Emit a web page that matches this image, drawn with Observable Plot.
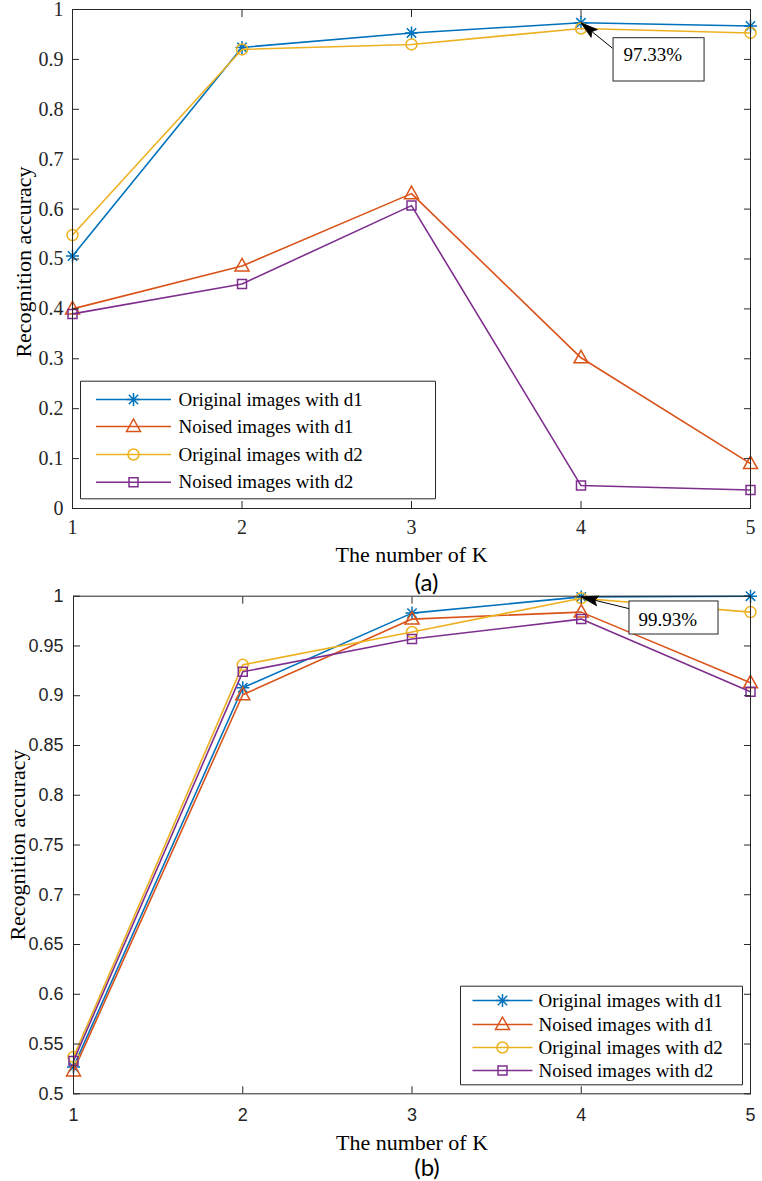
<!DOCTYPE html>
<html>
<head>
<meta charset="utf-8">
<script src="https://cdn.jsdelivr.net/npm/d3@7"></script>
<script src="https://cdn.jsdelivr.net/npm/@observablehq/plot@0.6"></script>
<style>
  html, body { margin: 0; padding: 0; background: #ffffff; overflow: hidden; }
  #wrap { width: 762px; height: 1181px; position: relative; }
  #wrap svg { display: block; }
</style>
</head>
<body>
<div id="wrap"></div>
<script>
// ---------------- data ----------------
const K = [1, 2, 3, 4, 5];
const xTicks = [1, 2, 3, 4, 5];
const xTickLabels = ["1", "2", "3", "4", "5"];

const seriesNames = ["Original images with d1", "Noised images with d1", "Original images with d2", "Noised images with d2"];
const seriesColors = ["#0072BD", "#D95319", "#EDB120", "#7E2F8E"];
const seriesMarkers = ["asterisk", "triangle", "circle", "square"];

// panel (a)
const aOrigD1 = [0.506, 0.924, 0.953, 0.9733, 0.967];
const aNoisD1 = [0.400, 0.486, 0.631, 0.302, 0.090];
const aOrigD2 = [0.548, 0.920, 0.930, 0.962, 0.953];
const aNoisD2 = [0.390, 0.450, 0.607, 0.046, 0.037];
const yTicksA = [0, 0.1, 0.2, 0.3, 0.4, 0.5, 0.6, 0.7, 0.8, 0.9, 1];
const yTickLabelsA = ["0", "0.1", "0.2", "0.3", "0.4", "0.5", "0.6", "0.7", "0.8", "0.9", "1"];
const annoTextA = [{x: 4.25, y: 0.909, t: "97.33%"}];
const annoBoxA = [{x1: 4.192, x2: 4.729, y1: 0.8557, y2: 0.9425}];
const annoArrowA = [{x1: 4.186, y1: 0.9224, x2: 4, y2: 0.9733}];

// panel (b)
const bOrigD1 = [0.527, 0.908, 0.983, 0.9993, 1.000];
const bNoisD1 = [0.523, 0.901, 0.977, 0.984, 0.913];
const bOrigD2 = [0.537, 0.931, 0.964, 0.998, 0.984];
const bNoisD2 = [0.533, 0.924, 0.957, 0.977, 0.904];
const yTicksB = [0.5, 0.55, 0.6, 0.65, 0.7, 0.75, 0.8, 0.85, 0.9, 0.95, 1];
const yTickLabelsB = ["0.5", "0.55", "0.6", "0.65", "0.7", "0.75", "0.8", "0.85", "0.9", "0.95", "1"];
const annoTextB = [{x: 4.338, y: 0.9766, t: "99.93%"}];
const annoBoxB = [{x1: 4.285, x2: 4.811, y1: 0.9615, y2: 0.9947}];
const annoArrowB = [{x1: 4.287, y1: 0.9873, x2: 4, y2: 0.9993}];

const xLabel = "The number of K";
const yLabel = "Recognition accuracy";

// ---------------- helpers ----------------
const INK = "#262626";
const SERIF = "'Liberation Serif', 'Times New Roman', serif";
const SANS = "'Liberation Sans', Arial, sans-serif";

const symAsterisk = {draw(c) {
  const r = 6.5, q = r * 0.72;
  c.moveTo(0, -r); c.lineTo(0, r);
  c.moveTo(-r, 0); c.lineTo(r, 0);
  c.moveTo(-q, -q); c.lineTo(q, q);
  c.moveTo(-q, q); c.lineTo(q, -q);
}};
const symTriangle = {draw(c) { c.moveTo(0, -7.5); c.lineTo(7, 5); c.lineTo(-7, 5); c.closePath(); }};
const symCircle = {draw(c) { c.moveTo(5.5, 0); c.arc(0, 0, 5.5, 0, 2 * Math.PI); }};
const symSquare = {draw(c) { c.rect(-4.5, -4.5, 9, 9); }};
const markerSymbols = {asterisk: symAsterisk, triangle: symTriangle, circle: symCircle, square: symSquare};
const hline = (w) => ({draw(c) { c.moveTo(-w / 2, 0); c.lineTo(w / 2, 0); }});
const boxSym = (w, h) => ({draw(c) { c.rect(-w / 2, -h / 2, w, h); }});
const arrowHead = (theta, L = 17, W = 5) => ({draw(c) {
  const ux = Math.cos(theta), uy = Math.sin(theta);
  const bx = L * ux, by = L * uy;
  c.moveTo(0, 0);
  c.lineTo(bx - W * uy, by + W * ux);
  c.lineTo(bx * 0.82, by * 0.82);
  c.lineTo(bx + W * uy, by - W * ux);
  c.closePath();
}});

function chart(cfg) {
  const {values, yDomain, yTicks, yTickLabels, height, m, tickFont, tickFontSize,
         xTickDy, yTickDx, legend, annoText, annoBox, annoArrow,
         yLabelDx, yLabelDy, xLabelDy, panel, panelDy} = cfg;
  const W = 762;
  const sx = d3.scaleLinear([1, 5], [m.left, W - m.right]);
  const sy = d3.scaleLinear(yDomain, [height - m.bottom, m.top]);
  const a = annoArrow[0];
  const theta = Math.atan2(sy(a.y1) - sy(a.y2), sx(a.x1) - sx(a.x2));

  const marks = [];
  // data
  seriesNames.forEach((name, si) => {
    const rows = K.map((k, i) => ({K: k, v: values[si][i]}));
    marks.push(Plot.line(rows, {x: "K", y: "v", stroke: seriesColors[si], strokeWidth: 1.6}));
    marks.push(Plot.dot(rows, {x: "K", y: "v", symbol: markerSymbols[seriesMarkers[si]], stroke: seriesColors[si], fill: "none", strokeWidth: 1.5}));
  });
  // frame & tick marks (MATLAB style, inward ticks on four sides)
  marks.push(Plot.frame({stroke: INK, strokeWidth: 1}));
  marks.push(Plot.axisX({anchor: "bottom", ticks: xTicks, tickSize: -7, label: null, tickFormat: () => "", stroke: INK}));
  marks.push(Plot.axisX({anchor: "top", ticks: xTicks, tickSize: -7, label: null, tickFormat: () => "", stroke: INK}));
  marks.push(Plot.axisY({anchor: "left", ticks: yTicks, tickSize: -7, label: null, tickFormat: () => "", stroke: INK}));
  marks.push(Plot.axisY({anchor: "right", ticks: yTicks, tickSize: -7, label: null, tickFormat: () => "", stroke: INK}));
  // tick labels
  marks.push(Plot.text(xTicks, {x: (d) => d, frameAnchor: "bottom", dy: xTickDy, text: (d, i) => xTickLabels[i],
    textAnchor: "middle", lineAnchor: "top", fontSize: tickFontSize, fontFamily: tickFont, fill: INK}));
  marks.push(Plot.text(yTicks, {y: (d) => d, frameAnchor: "left", dx: yTickDx, text: (d, i) => yTickLabels[i],
    textAnchor: "end", lineAnchor: "middle", fontSize: tickFontSize, fontFamily: tickFont, fill: INK}));
  // legend
  const L = legend;
  marks.push(Plot.dot([0], {frameAnchor: "top-left", dx: L.bx + L.bw / 2, dy: L.by + L.bh / 2,
    symbol: boxSym(L.bw, L.bh), fill: "white", stroke: INK, strokeWidth: 1}));
  seriesNames.forEach((name, si) => {
    marks.push(Plot.dot([0], {frameAnchor: "top-left", dx: L.cx, dy: L.rows[si], symbol: hline(L.lw), stroke: seriesColors[si], strokeWidth: 1.6}));
    marks.push(Plot.dot([0], {frameAnchor: "top-left", dx: L.cx, dy: L.rows[si], symbol: markerSymbols[seriesMarkers[si]], stroke: seriesColors[si], fill: "none", strokeWidth: 1.5}));
    marks.push(Plot.text([name], {frameAnchor: "top-left", dx: L.tx, dy: L.rows[si], textAnchor: "start", lineAnchor: "middle",
      fontSize: 19, fontFamily: SERIF, fill: "#000"}));
  });
  // annotation
  marks.push(Plot.link(annoArrow, {x1: "x1", y1: "y1", x2: "x2", y2: "y2", stroke: "#000", strokeWidth: 1}));
  marks.push(Plot.dot(annoArrow, {x: "x2", y: "y2", symbol: arrowHead(theta), fill: "#000", stroke: "#000", strokeWidth: 0.8}));
  marks.push(Plot.rect(annoBox, {x1: "x1", x2: "x2", y1: "y1", y2: "y2", fill: "white", stroke: INK, strokeWidth: 1}));
  marks.push(Plot.text(annoText, {x: "x", y: "y", text: "t", textAnchor: "start", lineAnchor: "middle", fontSize: 19, fontFamily: SERIF, fill: "#000"}));
  // axis titles and panel label
  marks.push(Plot.text([yLabel], {frameAnchor: "left", rotate: -90, dx: yLabelDx, dy: yLabelDy, textAnchor: "middle", lineAnchor: "middle",
    fontSize: 22, fontFamily: SERIF, fill: "#000"}));
  marks.push(Plot.text([xLabel], {frameAnchor: "bottom", dy: xLabelDy, textAnchor: "middle", lineAnchor: "bottom",
    fontSize: 22, fontFamily: SERIF, fill: "#000"}));
  marks.push(Plot.text([panel], {frameAnchor: "bottom", dx: 15, dy: panelDy, textAnchor: "middle", lineAnchor: "middle",
    fontSize: 24, fontFamily: "Lato, 'Open Sans', sans-serif", fill: "#000"}));

  return Plot.plot({
    width: W, height,
    marginLeft: m.left, marginRight: m.right, marginTop: m.top, marginBottom: m.bottom,
    x: {domain: [1, 5], label: null},
    y: {domain: yDomain, label: null},
    style: {background: "transparent", overflow: "visible", color: INK},
    marks
  });
}

const wrap = document.getElementById("wrap");

wrap.appendChild(chart({
  values: [aOrigD1, aNoisD1, aOrigD2, aNoisD2],
  yDomain: [0, 1], yTicks: yTicksA, yTickLabels: yTickLabelsA,
  height: 585, m: {left: 72, right: 12, top: 9, bottom: 77},
  tickFont: SERIF, tickFontSize: 20, xTickDy: 11, yTickDx: -9,
  legend: {bx: 8, by: 371.7, bw: 355, bh: 117.6, rows: [390, 417, 445, 472.7], cx: 61, lw: 75, tx: 106},
  annoText: annoTextA, annoBox: annoBoxA, annoArrow: annoArrowA,
  yLabelDx: -49, yLabelDy: 3, xLabelDy: 53, panel: "(a)", panelDy: 75
}));

wrap.appendChild(chart({
  values: [bOrigD1, bNoisD1, bOrigD2, bNoisD2],
  yDomain: [0.5, 1], yTicks: yTicksB, yTickLabels: yTickLabelsB,
  height: 596, m: {left: 73, right: 12, top: 10.7, bottom: 87.7},
  tickFont: SANS, tickFontSize: 18, xTickDy: 14.5, yTickDx: -10,
  legend: {bx: 387, by: 390, bw: 282, bh: 98.6, rows: [404.3, 428.3, 451.3, 474.3], cx: 429, lw: 60, tx: 465},
  annoText: annoTextB, annoBox: annoBoxB, annoArrow: annoArrowB,
  yLabelDx: -56, yLabelDy: 0, xLabelDy: 56, panel: "(b)", panelDy: 75
}));
</script>
</body>
</html>
